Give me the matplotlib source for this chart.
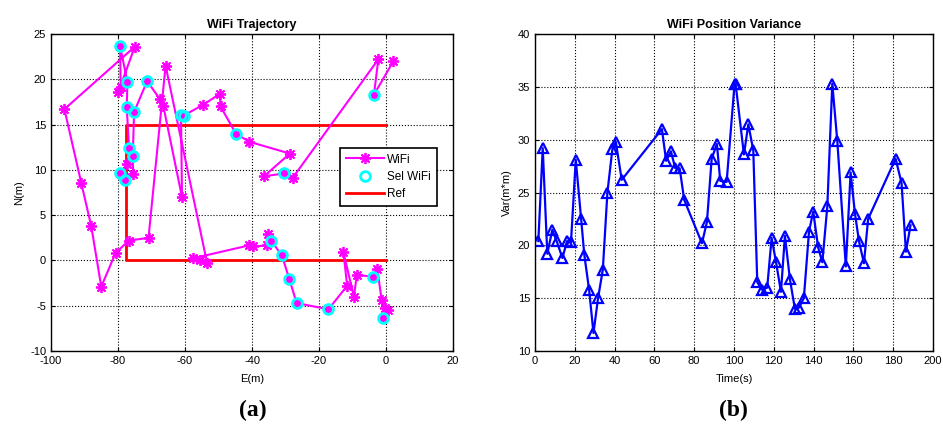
import matplotlib
matplotlib.use("Agg")
import matplotlib.pyplot as plt

plt.rcParams['font.family'] = ['Liberation Sans', 'DejaVu Sans']
plt.rcParams['axes.unicode_minus'] = False

# WiFi trajectory (E, N) in metres
wifi_e = [-1.0, 0.7, -0.3, -1.3, -2.6, -3.8, -8.7, -9.6, -12.7, -11.6,
          -17.2, -26.7, -28.9, -31.1, -34.3, -35.3, -35.6, -39.6, -41.0, -57.5,
          -55.5, -53.4, -65.8, -70.9, -76.7, -80.7, -85.0, -88.0, -91.0, -96.0,
          -75.0, -79.9, -79.2, -79.4, -77.2, -77.4, -76.7, -77.2, -79.5, -77.9,
          -75.5, -75.6, -75.2, -71.3, -67.5, -66.5, -60.9, -61.2, -60.4, -54.5,
          -49.6, -49.4, -44.8, -40.8, -28.7, -36.4, -30.4, -27.9, -2.3, -3.6,
          2.2]
wifi_n = [-6.4, -5.5, -5.3, -4.4, -0.9, -1.8, -1.6, -4.0, 0.9, -2.8,
          -5.4, -4.7, -2.0, 0.55, 2.2, 2.9, 1.65, 1.55, 1.65, 0.25,
          0.0, -0.3, 21.5, 2.5, 2.2, 0.85, -2.9, 3.8, 8.6, 16.7,
          23.6, 18.6, 19.1, 23.7, 19.7, 16.9, 12.4, 10.6, 9.7, 8.9,
          9.5, 11.5, 16.4, 19.8, 17.8, 17.1, 7.0, 16.1, 16.0, 17.2,
          18.4, 17.0, 14.0, 13.1, 11.8, 9.3, 9.6, 9.1, 22.2, 18.3,
          22.0]

# selected WiFi fixes
sel_e = [-1.0, -3.8, -17.2, -26.7, -28.9, -31.1, -34.3, -79.4, -77.2, -77.4,
         -76.7, -79.5, -77.9, -75.6, -75.2, -71.3, -61.2, -60.4, -44.8, -30.4,
         -3.6]
sel_n = [-6.4, -1.8, -5.4, -4.7, -2.0, 0.55, 2.2, 23.7, 19.7, 16.9,
         12.4, 9.7, 8.9, 11.5, 16.4, 19.8, 16.1, 16.0, 14.0, 9.6,
         18.3]

# reference path
ref_e = [0, -77.5, -77.5, 0]
ref_n = [0, 0, 15, 15]

# position variance over time
time_s = [1.7, 3.9, 6.2, 8.7, 10.9, 13.8, 16.1, 18.1, 20.5, 23.2,
          24.8, 27.2, 29.4, 31.7, 34.1, 36.4, 38.9, 40.6, 43.6, 63.8,
          65.9, 68.3, 70.5, 72.7, 75.0, 83.9, 86.4, 88.8, 91.4, 93.1,
          96.3, 100.3, 100.8, 105.0, 107.2, 109.7, 111.7, 114.2, 116.7, 118.9,
          121.1, 123.6, 125.6, 128.1, 130.6, 132.6, 135.1, 137.7, 139.8, 142.3,
          144.4, 146.9, 149.4, 151.9, 156.2, 158.6, 160.8, 162.8, 165.3, 167.4,
          181.2, 184.2, 186.4, 188.7]
var_m2 = [20.4, 29.2, 19.2, 21.45, 20.4, 18.8, 20.4, 20.3, 28.1, 22.5,
          19.1, 15.8, 11.7, 15.0, 17.7, 25.0, 29.1, 29.8, 26.2, 31.0,
          28.0, 28.9, 27.3, 27.3, 24.3, 20.2, 22.2, 28.2, 29.6, 26.1,
          26.0, 35.3, 35.3, 28.6, 31.45, 29.0, 16.5, 15.8, 16.0, 20.7,
          18.45, 15.6, 20.9, 16.8, 14.0, 14.1, 15.0, 21.3, 23.2, 19.8,
          18.4, 23.7, 35.3, 29.9, 18.0, 26.9, 23.0, 20.4, 18.3, 22.5,
          28.2, 25.9, 19.4, 21.9]

fig = plt.figure(figsize=(9.43, 4.30), dpi=100)
ax1 = fig.add_axes([0.0541, 0.1837, 0.4263, 0.7372])
ax2 = fig.add_axes([0.5673, 0.1837, 0.4221, 0.7372])

# left: trajectory
ax1.plot(wifi_e, wifi_n, color='#FF00FF', lw=1.5, marker=(8, 2, 0),
         markersize=8, mew=1.3, label='WiFi', zorder=3)
ax1.plot(sel_e, sel_n, ls='none', marker='o', mfc='none', mec='#00FFFF',
         mew=2, markersize=7, label='Sel WiFi', zorder=4)
ax1.plot(ref_e, ref_n, color='#FF0000', lw=2, label='Ref', zorder=2)
ax1.set_xlim(-100, 20)
ax1.set_ylim(-10, 25)
ax1.set_xticks(range(-100, 21, 20))
ax1.set_yticks(range(-10, 26, 5))
ax1.set_title('WiFi Trajectory', fontsize=9, fontweight='bold', pad=4)
ax1.set_xlabel('E(m)', fontsize=8, labelpad=6)
ax1.set_ylabel('N(m)', fontsize=8)
leg = ax1.legend(loc='upper right', bbox_to_anchor=(0.975, 0.66), fontsize=8.5,
                 fancybox=False, framealpha=1, edgecolor='black',
                 handlelength=3.2, borderpad=0.5, labelspacing=0.45,
                 handletextpad=0.3)
leg.get_frame().set_linewidth(1.2)

# right: variance
ax2.plot(time_s, var_m2, color='#0000FF', lw=1.6, marker='^', mfc='none',
         mec='#0000FF', mew=1.6, markersize=7)
ax2.set_xlim(0, 200)
ax2.set_ylim(10, 40)
ax2.set_xticks(range(0, 201, 20))
ax2.set_yticks(range(10, 41, 5))
ax2.set_title('WiFi Position Variance', fontsize=9, fontweight='bold', pad=4)
ax2.set_xlabel('Time(s)', fontsize=8, labelpad=6)
ax2.set_ylabel('Var(m*m)', fontsize=8)

for ax in (ax1, ax2):
    ax.grid(True, color='black', ls=':', lw=0.8)
    ax.set_axisbelow(True)
    ax.tick_params(direction='in', top=True, right=True, labelsize=8, length=3)
    for s in ax.spines.values():
        s.set_linewidth(1.0)

fig.text(0.268, 0.045, '(a)', fontsize=17, fontweight='bold',
         family='Liberation Serif', ha='center', va='center')
fig.text(0.778, 0.045, '(b)', fontsize=17, fontweight='bold',
         family='Liberation Serif', ha='center', va='center')

fig.savefig('out.png', dpi=100)
